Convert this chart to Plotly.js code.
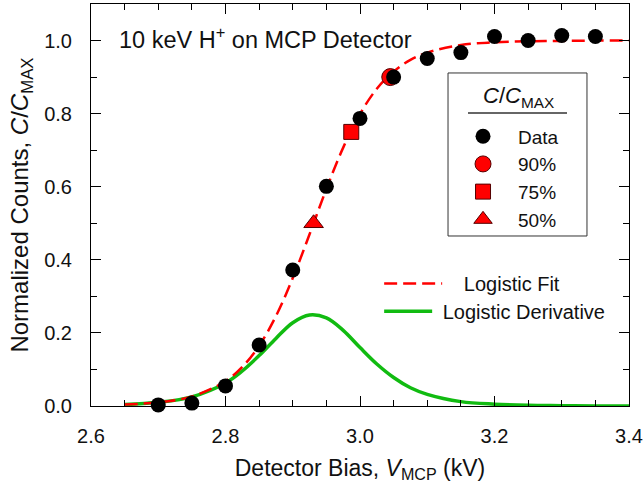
<!DOCTYPE html>
<html>
<head>
<meta charset="utf-8">
<script src="https://cdn.plot.ly/plotly-3.0.1.min.js"></script>
<style>
  html, body { margin: 0; padding: 0; background: #fff; }
  #chart { width: 643px; height: 487px; }
</style>
</head>
<body>
<div id="chart"></div>
<script>
// Measured MCP response: normalized counts vs. detector bias (kV)
const biasKV     = [2.70, 2.75, 2.80, 2.85, 2.90, 2.95, 3.00, 3.05, 3.10, 3.15, 3.20, 3.25, 3.30, 3.35];
const normCounts = [0.003, 0.008, 0.055, 0.167, 0.372, 0.601, 0.787, 0.900, 0.951, 0.967, 1.011, 1.000, 1.014, 1.011];

// Threshold points on the fitted curve
const x90 = [3.045], y90 = [0.90];
const x75 = [2.987], y75 = [0.75];
const x50 = [2.931], y50 = [0.50];

// Logistic fit and its derivative, sampled along the bias axis
const curveX = [2.65, 2.70, 2.75, 2.80, 2.825, 2.85, 2.875, 2.90, 2.925, 2.95, 2.975, 3.00,
                3.025, 3.05, 3.075, 3.10, 3.15, 3.20, 3.25, 3.30, 3.35, 3.40];
const fitY   = [0.004, 0.010, 0.026, 0.068, 0.107, 0.165, 0.246, 0.350, 0.470, 0.594, 0.707, 0.799,
                0.868, 0.915, 0.947, 0.967, 0.988, 0.995, 0.998, 0.999, 1.000, 1.000];
const derivY = [0.004, 0.010, 0.025, 0.063, 0.096, 0.138, 0.185, 0.228, 0.249, 0.241, 0.207, 0.160,
                0.115, 0.078, 0.050, 0.032, 0.012, 0.005, 0.002, 0.001, 0.000, 0.000];

const FONT = 'Arial, "Liberation Sans", sans-serif';
const INK = '#111';
const NB = '\u00a0';

const traces = [
  {
    x: curveX, y: derivY, type: 'scatter', mode: 'lines',
    name: NB + 'Logistic Derivative', legend: 'legend3',
    line: { color: '#11bb11', width: 3.5, shape: 'spline', smoothing: 1 },
    cliponaxis: false
  },
  {
    x: curveX, y: fitY, type: 'scatter', mode: 'lines',
    name: NB.repeat(3) + 'Logistic Fit', legend: 'legend2',
    line: { color: '#ff0000', width: 2.5, dash: '13px,6px', shape: 'spline', smoothing: 1 }
  },
  {
    x: x90, y: y90, type: 'scatter', mode: 'markers', name: '90%', legendrank: 2,
    marker: { symbol: 'circle', size: 17, color: '#ff0000', line: { color: '#550000', width: 1 } }
  },
  {
    x: x75, y: y75, type: 'scatter', mode: 'markers', name: '75%', legendrank: 3,
    marker: { symbol: 'square', size: 15, color: '#ff0000', line: { color: '#550000', width: 1 } }
  },
  {
    x: x50, y: y50, type: 'scatter', mode: 'markers', name: '50%', legendrank: 4,
    marker: { symbol: 'triangle-up', size: 17, color: '#ff0000', line: { color: '#550000', width: 1 } }
  },
  {
    x: biasKV, y: normCounts, type: 'scatter', mode: 'markers', name: 'Data', legendrank: 1,
    marker: { symbol: 'circle', size: 15, color: '#000000' },
    cliponaxis: false
  }
];

const axisCommon = {
  showline: true, linecolor: '#000', linewidth: 1, mirror: 'ticks',
  ticks: 'inside', ticklen: 10, tickwidth: 1, tickcolor: '#000',
  showgrid: false, zeroline: false, tickformat: '.1f',
  tickfont: { family: FONT, size: 20, color: INK }
};

const layout = {
  width: 643, height: 487,
  margin: { l: 91, r: 14, t: 4, b: 81 },
  paper_bgcolor: '#fff', plot_bgcolor: '#fff',
  font: { family: FONT, color: INK },
  xaxis: Object.assign({}, axisCommon, {
    range: [2.6, 3.4], tick0: 2.6, dtick: 0.2, ticklabelstandoff: 12,
    minor: { dtick: 0.05, ticks: 'inside', ticklen: 6, tickcolor: '#000', tickwidth: 1, showgrid: false },
    title: { text: 'Detector Bias, <i>V</i><sub>MCP</sub> (kV)', font: { family: FONT, size: 23, color: INK }, standoff: 13 }
  }),
  yaxis: Object.assign({}, axisCommon, {
    range: [0, 1.1], tick0: 0, dtick: 0.2, ticklabelstandoff: 14,
    minor: { dtick: 0.1, ticks: 'inside', ticklen: 6, tickcolor: '#000', tickwidth: 1, showgrid: false },
    title: { text: 'Normalized Counts, <i>C</i>/<i>C</i><sub>MAX</sub>', font: { family: FONT, size: 24, color: INK }, standoff: 8 }
  }),
  // Marker key (framed box with its header drawn as annotation + shapes)
  legend: {
    x: 0.6636, y: 0.718, xanchor: 'left', yanchor: 'top',
    borderwidth: 0, bgcolor: 'rgba(0,0,0,0)',
    font: { family: FONT, size: 19, color: INK },
    itemwidth: 60, tracegroupgap: 0
  },
  legend2: {
    x: 0.5356, y: 0.353, xanchor: 'left', yanchor: 'top',
    borderwidth: 0, bgcolor: 'rgba(0,0,0,0)', itemwidth: 58,
    font: { family: FONT, size: 20, color: INK }
  },
  legend3: {
    x: 0.5356, y: 0.284, xanchor: 'left', yanchor: 'top',
    borderwidth: 0, bgcolor: 'rgba(0,0,0,0)', itemwidth: 48,
    font: { family: FONT, size: 20, color: INK }
  },
  annotations: [
    {
      xref: 'paper', yref: 'paper', x: 0.048, y: 0.915, xanchor: 'left', yanchor: 'middle',
      text: '10 keV H<sup>+</sup> on MCP Detector', showarrow: false,
      font: { family: FONT, size: 23.5, color: INK }
    },
    {
      xref: 'paper', yref: 'paper', x: 0.7937, y: 0.7687, xanchor: 'center', yanchor: 'middle',
      text: '<i>C</i>/<i>C</i><sub>MAX</sub>', showarrow: false,
      font: { family: FONT, size: 22, color: INK }
    }
  ],
  shapes: [
    {
      type: 'rect', xref: 'paper', yref: 'paper',
      x0: 0.6636, x1: 0.9219, y0: 0.4229, y1: 0.8284,
      line: { color: '#333', width: 1 }, fillcolor: 'rgba(0,0,0,0)'
    },
    {
      type: 'line', xref: 'paper', yref: 'paper',
      x0: 0.7007, x1: 0.8848, y0: 0.7289, y1: 0.7289,
      line: { color: '#333', width: 1.5 }
    }
  ]
};

Plotly.newPlot('chart', traces, layout, { staticPlot: true, displayModeBar: false });
</script>
</body>
</html>
